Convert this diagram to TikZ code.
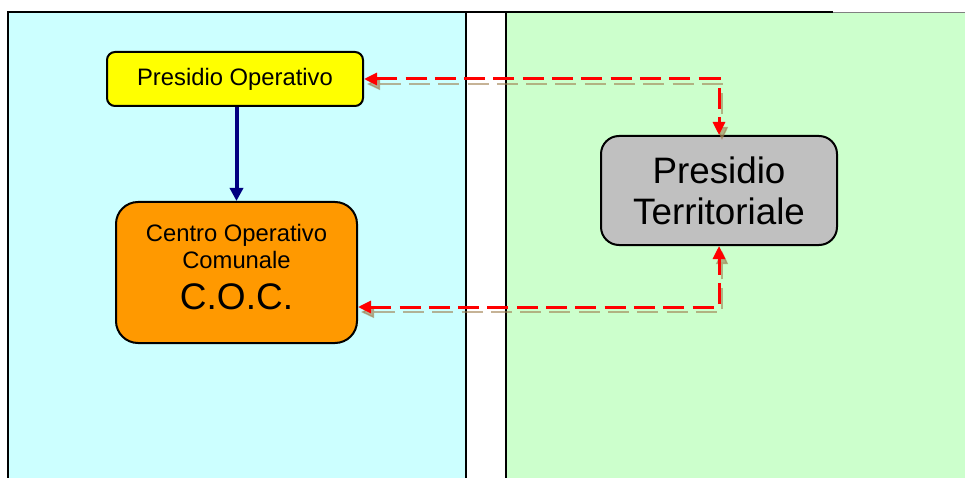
\documentclass[tikz,border=0pt]{standalone}
\usepackage{fontspec}
\setmainfont{Liberation Sans}
\usetikzlibrary{arrows.meta,calc}
\definecolor{panelblue}{HTML}{CCFFFF}
\definecolor{panelgreen}{HTML}{CCFFCC}
\definecolor{boxyellow}{HTML}{FFFF00}
\definecolor{boxorange}{HTML}{FF9900}
\definecolor{boxgray}{HTML}{C0C0C0}
\definecolor{navyarrow}{HTML}{000080}
\definecolor{shadowcol}{HTML}{A08050}
\tikzset{
  box/.style={draw=black, line width=2pt, align=center, inner sep=0pt},
  reddash/.style={draw=red, line width=3pt, dash pattern=on 21pt off 8.3pt,
    {Triangle[length=13pt,width=12pt]}-{Triangle[length=13pt,width=12pt]}},
  shadowdash/.style={draw=shadowcol, draw opacity=0.6, fill opacity=0.6, line width=1.4pt,
    dash pattern=on 21pt off 8.3pt,
    {Triangle[length=13pt,width=12pt]}-{Triangle[length=13pt,width=12pt]}},
  navyline/.style={draw=navyarrow, line width=4pt, -{Triangle[length=13pt,width=13pt]}}
}
\begin{document}
\begin{tikzpicture}[x=1pt,y=-1pt]
\useasboundingbox (0,0) rectangle (965,478);
% panels
\fill[panelblue] (8,12.5) rectangle (466,480);
\fill[panelgreen] (506,12.5) rectangle (970,480);
\draw[line width=2pt] (8,480) -- (8,12.5) -- (833,12.5);
\draw[line width=1.5pt] (466,12.5) -- (466,480);
\draw[line width=2pt] (506,12.5) -- (506,480);
\draw[line width=1.2pt, gray] (833,12.5) -- (966,12.5);
% nodes
\node[box, fill=boxyellow, minimum width=256pt, minimum height=54pt, rounded corners=8pt,
  font=\fontsize{23.8}{27}\selectfont]
  (po) at (235,79) {Presidio Operativo};
\node[box, fill=boxorange, minimum width=241pt, minimum height=141pt, rounded corners=22pt]
  (coc) at (236.5,272.5) {};
\node (coctext) at (236.5,267) [align=center, inner sep=0pt, font=\fontsize{23.8}{27}\selectfont]
  {Centro Operativo\\Comunale\\[14pt]{\fontsize{37}{41}\selectfont C.O.C.}};
\node[box, fill=boxgray, minimum width=236pt, minimum height=109pt, rounded corners=18pt,
  font=\fontsize{36.8}{42}\selectfont]
  (pt) at (719,190.5) {Presidio\\[-1pt]Territoriale};
% connectors
\draw[navyline] (coc.north |- po.south) -- (coc.north);
\coordinate (cb) at ([yshift=-34.5pt]coc.east);
\draw[shadowdash, transform canvas={xshift=3pt,yshift=-5pt}] (po.east) -- (po.east -| pt.north) -- (pt.north);
\draw[reddash] (po.east) -- (po.east -| pt.north) -- (pt.north);
\draw[shadowdash, transform canvas={xshift=3pt,yshift=-5pt}] (cb) -- (cb -| pt.south) -- (pt.south);
\draw[reddash] (cb) -- (cb -| pt.south) -- (pt.south);
\end{tikzpicture}
\end{document}
